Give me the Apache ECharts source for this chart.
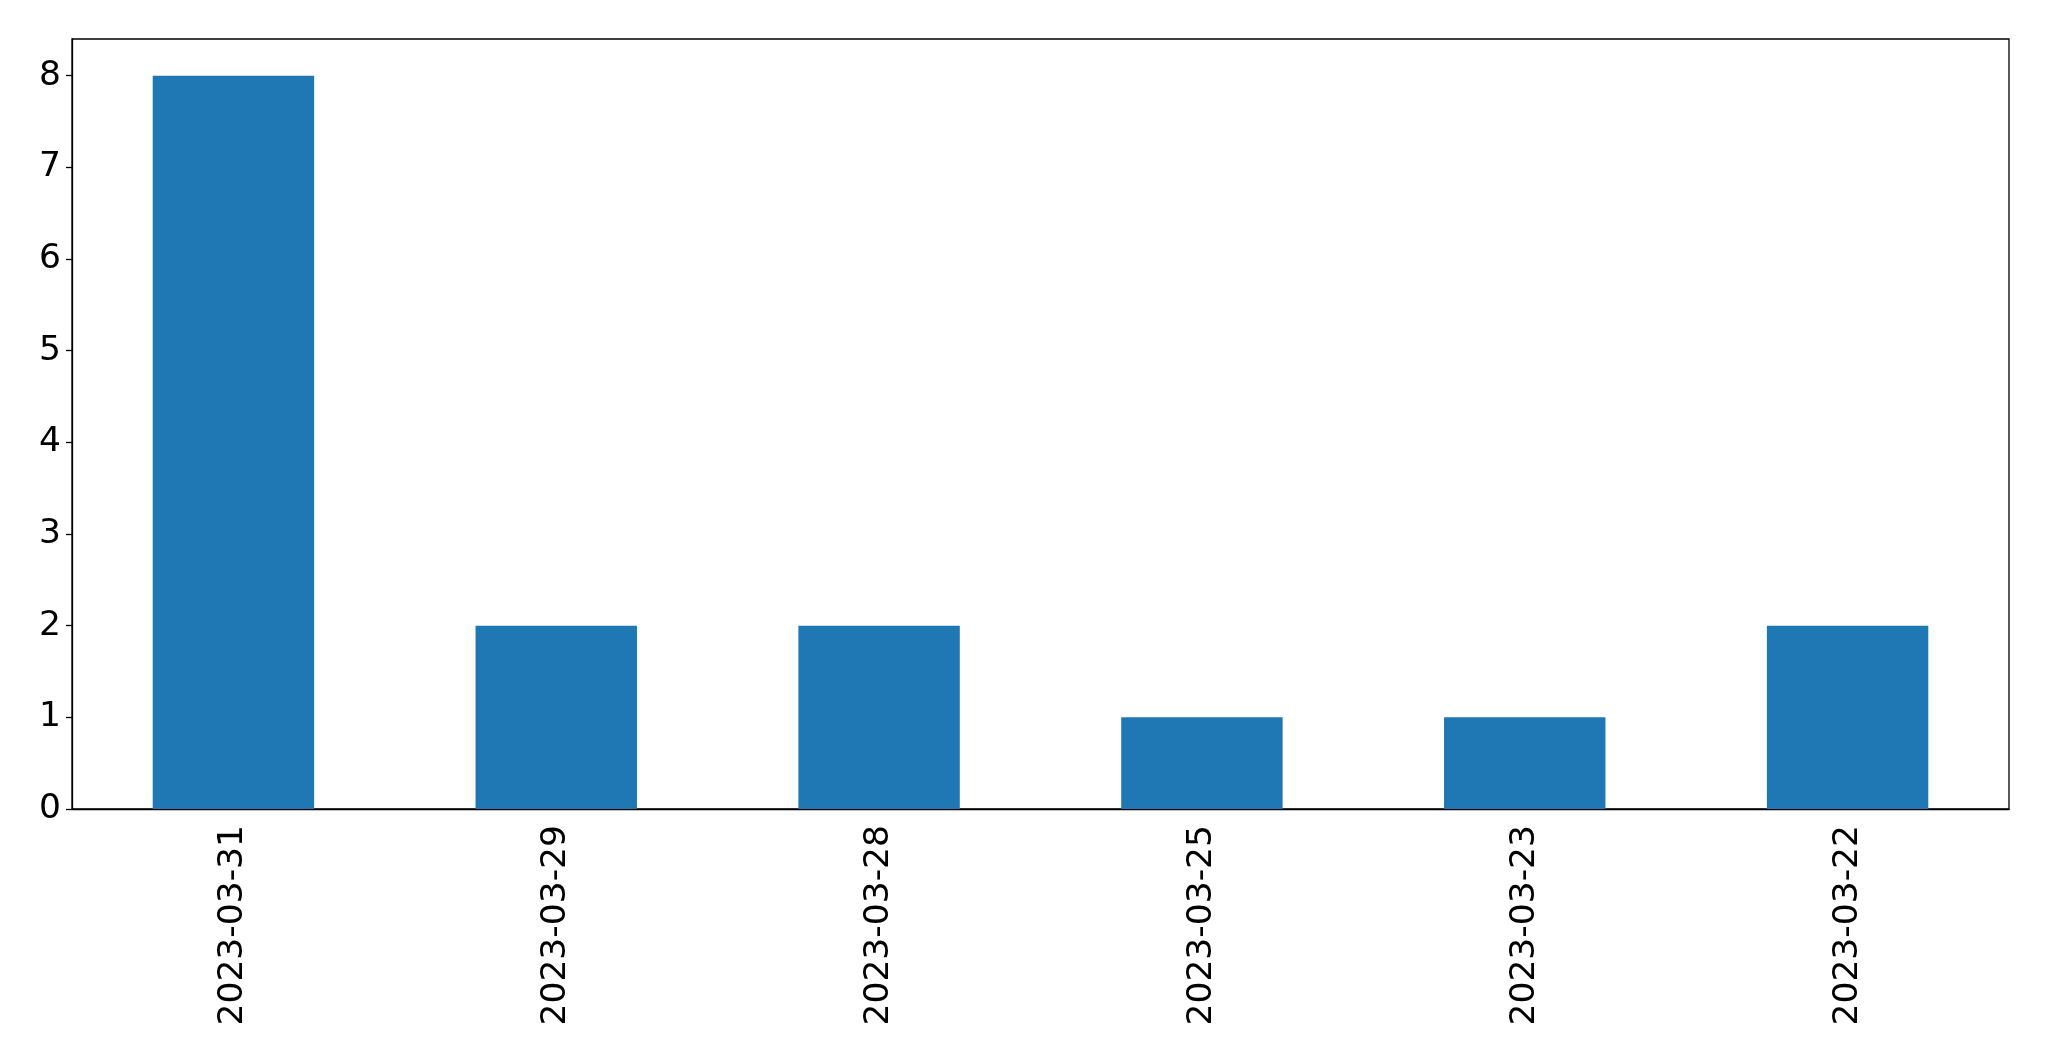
<!DOCTYPE html>
<html>
<head>
<meta charset="utf-8">
<script src="https://cdn.jsdelivr.net/npm/echarts@6/dist/echarts.min.js"></script>
<style>
html,body{margin:0;padding:0;background:#fff;}
#chart{width:2049px;height:1061px;}
</style>
</head>
<body>
<div id="chart"></div>
<script>
const categories = ['2023-03-31','2023-03-29','2023-03-28','2023-03-25','2023-03-23','2023-03-22'];
const values = [8, 2, 2, 1, 1, 2];
const yTicks = [0,1,2,3,4,5,6,7,8];

const chart = echarts.init(document.getElementById('chart'), null, {renderer:'canvas'});
const font = 'DejaVu Sans';
chart.setOption({
  animation: false,
  backgroundColor: '#fff',
  grid: {left: 72, top: 39, width: 1937, height: 770, show: true, borderColor: '#000', borderWidth: 1.3, containLabel: false},
  xAxis: {
    type: 'category',
    data: categories,
    boundaryGap: true,
    axisLine: {lineStyle: {color: '#000', width: 1.3}},
    axisTick: {alignWithLabel: true, length: 6, lineStyle: {color: '#000', width: 1.3}},
    axisLabel: {rotate: 90, fontSize: 34.5, fontFamily: font, color: '#000', margin: 16},
    splitLine: {show: false}
  },
  yAxis: {
    type: 'value',
    min: 0, max: 8.4, interval: 1,
    axisLine: {show: true, lineStyle: {color: '#000', width: 1.3}},
    axisTick: {show: true, length: 6, lineStyle: {color: '#000', width: 1.3}},
    axisLabel: {fontSize: 34.5, fontFamily: font, color: '#000', margin: 11, showMaxLabel: false,
      formatter: v => yTicks.includes(v) ? String(v) : ''},
    splitLine: {show: false}
  },
  series: [{
    type: 'bar',
    data: values,
    barWidth: '50%',
    itemStyle: {color: '#1f77b4'}
  }]
});
</script>
</body>
</html>
